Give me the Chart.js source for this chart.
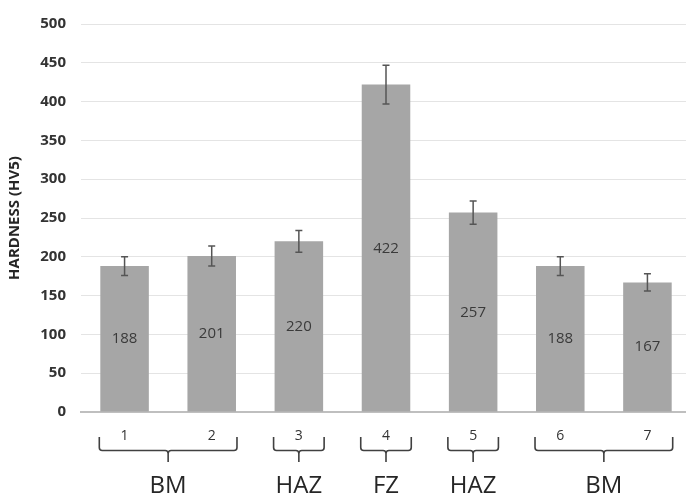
<!DOCTYPE html>
<html>
<head>
<meta charset="utf-8">
<script src="https://cdn.jsdelivr.net/npm/chart.js@4/dist/chart.umd.min.js"></script>
<style>
html,body{margin:0;padding:0;background:#fff;overflow:hidden;width:686px;height:499px;}
#wrap{position:absolute;left:0;top:0;width:692px;height:499px;}
</style>
</head>
<body>
<div id="wrap"><canvas id="c" width="692" height="499"></canvas></div>
<script>
const categories = ['1','2','3','4','5','6','7'];
const hardness = [188, 201, 220, 422, 257, 188, 167];
const errors = [12, 13, 14, 25, 15, 12, 11];
const groupNames = ['BM', 'HAZ', 'FZ', 'HAZ', 'BM'];
const groupStart = [0, 2, 3, 4, 5];
const groupEnd = [1, 2, 3, 4, 6];
const yTicks = [0, 50, 100, 150, 200, 250, 300, 350, 400, 450, 500];

const overlay = {
  id: 'overlay',
  afterDatasetsDraw(chart) {
    const ctx = chart.ctx;
    const meta = chart.getDatasetMeta(0);
    const y = chart.scales.y;
    ctx.save();
    // error bars
    ctx.strokeStyle = '#555555';
    ctx.lineWidth = 1.5;
    meta.data.forEach((bar, i) => {
      const v = hardness[i], e = errors[i];
      const yt = y.getPixelForValue(v + e), yb = y.getPixelForValue(v - e);
      ctx.beginPath();
      ctx.moveTo(bar.x, yt); ctx.lineTo(bar.x, yb);
      ctx.moveTo(bar.x - 3.5, yt); ctx.lineTo(bar.x + 3.5, yt);
      ctx.moveTo(bar.x - 3.5, yb); ctx.lineTo(bar.x + 3.5, yb);
      ctx.stroke();
    });
    // value labels
    ctx.fillStyle = '#3a3a3a';
    ctx.font = '15px "Open Sans"';
    ctx.textAlign = 'center';
    ctx.textBaseline = 'middle';
    meta.data.forEach((bar, i) => {
      ctx.fillText(String(hardness[i]), bar.x, y.getPixelForValue(hardness[i] / 2));
    });
    // braces and group labels
    const top = y.bottom + 25, mid = y.bottom + 38.5, tip = y.bottom + 50;
    ctx.strokeStyle = '#404040';
    ctx.lineWidth = 1.6;
    groupNames.forEach((name, g) => {
      const b0 = meta.data[groupStart[g]], b1 = meta.data[groupEnd[g]];
      const xl = b0.x - b0.width / 2 - 1, xr = b1.x + b1.width / 2 + 1;
      const xc = (xl + xr) / 2;
      const r = 3;
      ctx.beginPath();
      ctx.moveTo(xl, top);
      ctx.lineTo(xl, mid - r);
      ctx.quadraticCurveTo(xl, mid, xl + r, mid);
      ctx.lineTo(xc - r, mid);
      ctx.quadraticCurveTo(xc, mid, xc, mid + r);
      ctx.lineTo(xc, tip);
      ctx.moveTo(xc, mid + r);
      ctx.quadraticCurveTo(xc, mid, xc + r, mid);
      ctx.lineTo(xr - r, mid);
      ctx.quadraticCurveTo(xr, mid, xr, mid - r);
      ctx.lineTo(xr, top);
      ctx.stroke();
      ctx.fillStyle = '#262626';
      ctx.font = '24px "Open Sans"';
      ctx.fillText(name, xc, y.bottom + 74);
    });
    ctx.restore();
  }
};

new Chart(document.getElementById('c'), {
  type: 'bar',
  data: {
    labels: categories,
    datasets: [{
      data: hardness,
      backgroundColor: '#a6a6a6',
      borderWidth: 0,
      barPercentage: 0.557,
      categoryPercentage: 1.0
    }]
  },
  options: {
    responsive: false,
    animation: false,
    devicePixelRatio: 1,
    layout: { padding: { top: 14, right: 1, left: 0, bottom: 0 } },
    plugins: { legend: { display: false }, tooltip: { enabled: false } },
    scales: {
      x: {
        grid: { display: false, drawTicks: false },
        border: { display: true, color: '#bfbfbf', width: 2 },
        ticks: { color: '#333333', font: { family: 'Open Sans', size: 14 }, padding: 16 },
        afterFit(s) { s.height = 87; }
      },
      y: {
        min: 0, max: 500,
        afterBuildTicks(s) { s.ticks = yTicks.map(v => ({ value: v })); },
        grid: { color: '#e4e4e4', lineWidth: 1, drawTicks: false },
        border: { display: false },
        ticks: { color: '#333333', font: { family: 'Open Sans', size: 15, weight: 'bold' }, padding: 15 },
        title: { display: true, text: 'HARDNESS (HV5)', color: '#262626', font: { family: 'Open Sans', size: 15, weight: 'bold' }, padding: { top: 6, bottom: 0 } },
        afterFit(s) { s.width = 81; }
      }
    }
  },
  plugins: [overlay]
});
</script>
</body>
</html>
